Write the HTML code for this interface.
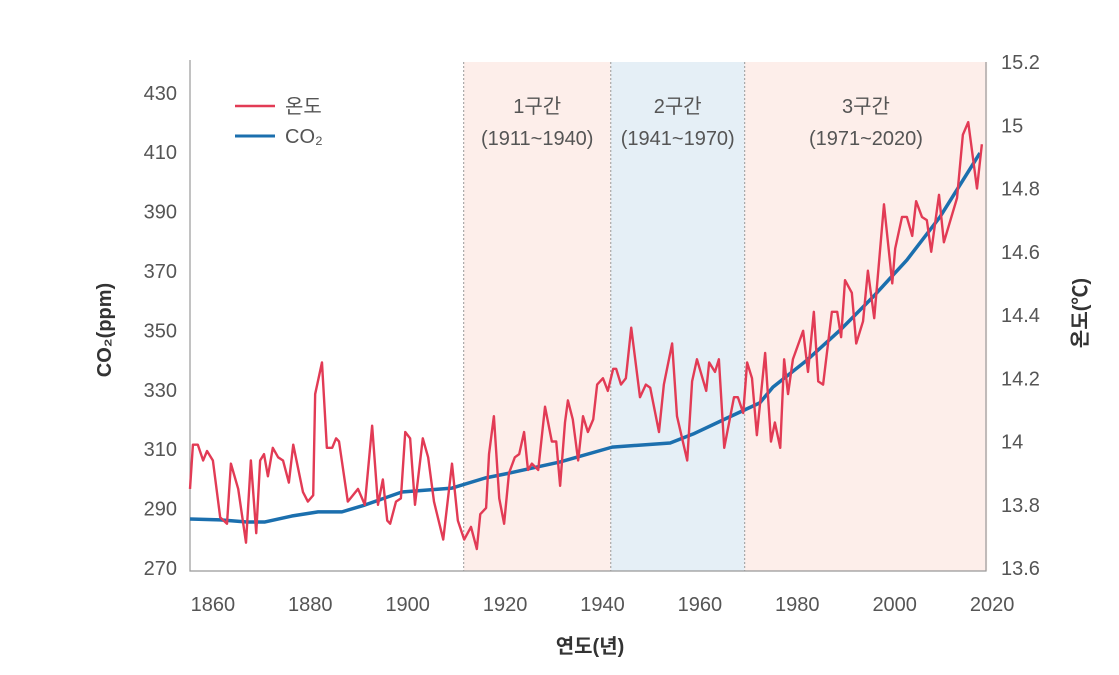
<!DOCTYPE html>
<html><head><meta charset="utf-8"><style>
body{margin:0;background:#fff;}
svg{display:block;font-family:"Liberation Sans","Noto Sans CJK KR",sans-serif;}
.t{fill:#555;font-size:20px;}
</style></head><body>
<svg id="chart" width="1119" height="675" viewBox="0 0 1119 675" xmlns="http://www.w3.org/2000/svg">
<g id="bg"></g>
<g id="axes"></g>
<g id="series"></g>
<g id="labels"></g>
</svg>
<script>
const tempYears=[1855.3,1855.9,1856.9,1858.0,1858.8,1860.0,1861.5,1862.9,1863.7,1865.2,1866.8,1867.8,1868.9,1869.7,1870.5,1871.3,1872.3,1873.4,1874.4,1875.6,1876.5,1878.5,1879.5,1880.6,1881.0,1882.4,1883.4,1884.5,1885.3,1885.9,1887.7,1889.8,1891.2,1892.7,1893.9,1894.9,1895.8,1896.4,1897.6,1898.6,1899.5,1900.5,1901.5,1903.1,1904.2,1905.4,1907.3,1909.1,1910.3,1911.6,1913.0,1914.2,1914.9,1916.1,1916.7,1917.7,1918.8,1919.8,1920.8,1922.0,1922.9,1923.9,1924.7,1925.5,1926.8,1928.2,1929.6,1930.5,1931.3,1932.3,1932.9,1933.9,1935.0,1936.0,1937.0,1938.1,1938.9,1940.1,1941.1,1942.2,1942.8,1943.8,1944.8,1945.9,1947.7,1948.9,1949.8,1951.6,1952.6,1954.3,1955.3,1957.4,1958.4,1959.4,1961.3,1961.9,1963.1,1963.9,1965.0,1967.0,1967.8,1968.9,1969.7,1970.7,1971.7,1973.4,1974.6,1975.4,1976.5,1977.3,1978.1,1979.1,1981.2,1982.2,1983.4,1984.3,1985.3,1987.1,1988.2,1989.0,1989.8,1991.2,1992.1,1993.5,1994.5,1995.8,1997.8,1999.5,2000.1,2001.5,2002.5,2003.6,2004.4,2005.6,2006.6,2007.5,2009.1,2010.1,2012.8,2014.0,2015.1,2016.9,2017.9];
const tempValues=[13.85,13.99,13.99,13.94,13.97,13.94,13.76,13.74,13.93,13.85,13.68,13.94,13.71,13.94,13.96,13.89,13.98,13.95,13.94,13.87,13.99,13.84,13.81,13.83,14.15,14.25,13.98,13.98,14.01,14.00,13.81,13.85,13.80,14.05,13.80,13.88,13.75,13.74,13.81,13.82,14.03,14.01,13.80,14.01,13.95,13.81,13.69,13.93,13.75,13.69,13.73,13.66,13.77,13.79,13.96,14.08,13.82,13.74,13.90,13.95,13.96,14.03,13.91,13.93,13.91,14.11,14.00,14.00,13.86,14.06,14.13,14.07,13.94,14.08,14.03,14.07,14.18,14.20,14.16,14.23,14.23,14.18,14.20,14.36,14.14,14.18,14.17,14.03,14.18,14.31,14.08,13.94,14.19,14.26,14.16,14.25,14.22,14.26,13.98,14.14,14.14,14.09,14.25,14.20,14.02,14.28,14.00,14.06,13.98,14.26,14.15,14.26,14.35,14.22,14.41,14.19,14.18,14.41,14.41,14.33,14.51,14.47,14.31,14.38,14.54,14.39,14.75,14.50,14.61,14.71,14.71,14.65,14.76,14.71,14.70,14.60,14.78,14.63,14.77,14.97,15.01,14.80,14.94];
const co2Years=[1855.3,1861.5,1867.0,1870.7,1876.2,1881.6,1886.5,1891.2,1898.8,1909.1,1915.9,1921.0,1931.3,1942.0,1953.9,1958.6,1965.6,1972.3,1975.0,1982.0,1988.8,1995.5,2002.5,2009.3,2017.5];
const co2Values=[286.5,286.2,285.5,285.5,287.5,288.9,288.9,291.2,295.6,296.9,300.3,302.0,305.7,310.7,312.1,315.1,320.5,325.6,330.9,340.0,350.1,361.2,373.7,388.2,409.7];
const xTicks=[1860,1880,1900,1920,1940,1960,1980,2000,2020];
const co2Ticks=[270,290,310,330,350,370,390,410,430];
const tempTicks=["13.6","13.8","14","14.2","14.4","14.6","14.8","15","15.2"];
const periodStarts=[1911.5,1941.7,1969.2];
const periodEnds=[1941.7,1969.2,2019];
const periodNames=["1구간","2구간","3구간"];
const periodRanges=["(1911~1940)","(1941~1970)","(1971~2020)"];

const NS="http://www.w3.org/2000/svg";
const X0=190,X1=986,Y0=571,YT=62;
const xS=y=>190+(y-1855.3)*4.87;
const yC=v=>568-(v-270)*2.97;
const yT=v=>568-(v-13.6)*316.25;
function mk(tag,attrs,parent,text){const e=document.createElementNS(NS,tag);for(const k in attrs)e.setAttribute(k,attrs[k]);if(text!==undefined)e.textContent=text;parent.appendChild(e);return e;}
const bg=document.getElementById('bg'),ax=document.getElementById('axes'),se=document.getElementById('series'),lb=document.getElementById('labels');
const fills=["#fdeeea","#e5eff6","#fdeeea"];
periodStarts.forEach((s,i)=>{
  const r=mk('rect',{x:xS(s),y:YT,width:xS(periodEnds[i])-xS(s),height:Y0-YT,fill:fills[i]},bg);
  
  
  const l=mk('line',{x1:xS(s),x2:xS(s),y1:YT,y2:Y0,stroke:'#999','stroke-dasharray':'2,2','stroke-width':1},bg);
  
  
  const cx=(xS(s)+xS(periodEnds[i]))/2;
  const t1=mk('text',{x:cx,y:113,'text-anchor':'middle',class:'t'},lb,periodNames[i]);
  
  
  const t2=mk('text',{x:cx,y:145,'text-anchor':'middle',class:'t'},lb,periodRanges[i]);
  
  
});
const pl=mk('polyline',{points:`${X0},${YT-2} ${X0},${Y0} ${X1},${Y0} ${X1},${YT}`,fill:'none',stroke:'#999','stroke-width':1.2},ax);


xTicks.forEach(v=>{const t=mk('text',{x:xS(v),y:611,'text-anchor':'middle',class:'t'},ax,v);
  
  });
co2Ticks.forEach(v=>{const t=mk('text',{x:177,y:yC(v)+7,'text-anchor':'end',class:'t'},ax,v);
  
  });
tempTicks.forEach(v=>{const t=mk('text',{x:1001,y:yT(+v)+7,'text-anchor':'start',class:'t'},ax,v);
  
  });
const cp=mk('polyline',{points:co2Years.map((y,i)=>xS(y)+','+yC(co2Values[i])).join(' '),fill:'none',stroke:'#1b6fae','stroke-width':3.5,'stroke-linejoin':'round'},se);


const tp=mk('polyline',{points:tempYears.map((y,i)=>xS(y)+','+yT(tempValues[i])).join(' '),fill:'none',stroke:'#e23b55','stroke-width':2.4,'stroke-linejoin':'round'},se);


const lg=mk('g',{},lb);


mk('line',{x1:235,x2:275,y1:106,y2:106,stroke:'#e23b55','stroke-width':2.5},lg);
mk('text',{x:285,y:113,class:'t'},lg,'온도');
mk('line',{x1:235,x2:275,y1:136,y2:136,stroke:'#1b6fae','stroke-width':3},lg);
mk('text',{x:285,y:143,class:'t'},lg,'CO₂');
const yl=mk('text',{x:0,y:0,transform:'translate(111,330) rotate(-90)','text-anchor':'middle',fill:'#333','font-size':'20','font-weight':'bold'},lb,'CO₂(ppm)');


const yr=mk('text',{x:0,y:0,transform:'translate(1087,313) rotate(-90)','text-anchor':'middle',fill:'#333','font-size':'20','font-weight':'bold'},lb,'온도(℃)');


const xl=mk('text',{x:590,y:653,'text-anchor':'middle',fill:'#333','font-size':'20','font-weight':'bold'},lb,'연도(년)');


</script>
</body></html>
